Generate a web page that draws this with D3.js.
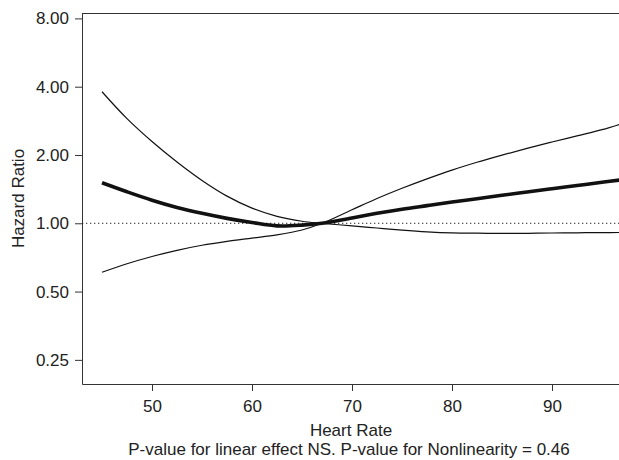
<!DOCTYPE html>
<html>
<head>
<meta charset="utf-8">
<script src="https://cdn.jsdelivr.net/npm/d3@7"></script>
<style>
  body { margin: 0; background: #fff; }
  svg { display: block; }
  text { font-family: "Liberation Sans", Arial, Helvetica, sans-serif; fill: #222; }
</style>
</head>
<body>
<div id="chart"></div>
<script>
// heart rate grid
const heartRate = [45, 47.5, 50, 52.5, 55, 57.5, 60, 62.5, 65, 67, 70, 72.5, 75, 77.5, 80, 82.5, 85, 87.5, 90, 92.5, 95, 97];
// hazard ratio estimate (thick line)
const hrEstimate = [1.509, 1.377, 1.264, 1.174, 1.106, 1.051, 1.008, 0.974, 0.981, 1.0, 1.056, 1.106, 1.153, 1.196, 1.24, 1.283, 1.329, 1.374, 1.42, 1.467, 1.516, 1.556];
// confidence band, the curve that starts high
const ciBandA = [3.80, 2.892, 2.293, 1.862, 1.544, 1.317, 1.166, 1.073, 1.021, 1.0, 0.974, 0.953, 0.933, 0.917, 0.907, 0.904, 0.903, 0.903, 0.906, 0.908, 0.91, 0.911];
// confidence band, the curve that starts low
const ciBandB = [0.608, 0.663, 0.714, 0.76, 0.80, 0.832, 0.86, 0.889, 0.934, 1.0, 1.147, 1.285, 1.426, 1.569, 1.715, 1.857, 1.997, 2.139, 2.281, 2.428, 2.585, 2.751];

const yTicks = [0.25, 0.5, 1, 2, 4, 8];
const xTicks = [50, 60, 70, 80, 90];

const width = 619,
      height = 460;
const margin = { left: 82, top: 13, bottom: 76 };
const plotRight = 622;

const svg = d3.select("#chart")
              .append("svg")
              .attr("width", width)
              .attr("height", height);

const x = d3.scaleLinear().domain([43, 97]).range([margin.left, plotRight]);
const y = d3.scaleLog().base(2).domain([0.1957, 8.45]).range([height - margin.bottom, margin.top]);

// Axes
const yAxis = d3.axisLeft(y)
                .tickValues(yTicks)
                .tickFormat(d3.format(".2f"))
                .tickSize(7)
                .tickSizeOuter(0)
                .tickPadding(6);

const xAxis = d3.axisBottom(x)
                .tickValues(xTicks)
                .tickFormat(d3.format("d"))
                .tickSize(7)
                .tickSizeOuter(0)
                .tickPadding(9);

const gy = svg.append("g")
              .attr("transform", `translate(${margin.left},0)`)
              .call(yAxis);

const gx = svg.append("g")
              .attr("transform", `translate(0,${height - margin.bottom})`)
              .call(xAxis);

[gx, gy].forEach(g => {
    g.selectAll("path, line").attr("stroke", "#333").attr("stroke-width", 1);
    g.selectAll("text").attr("font-size", 17).attr("fill", "#222")
     .attr("font-family", '"Liberation Sans", Arial, Helvetica, sans-serif');
});

// top border (right side runs off the picture)
svg.append("line")
   .attr("x1", margin.left).attr("x2", width)
   .attr("y1", margin.top + 0.5).attr("y2", margin.top + 0.5)
   .attr("stroke", "#333");

// reference line at HR = 1
svg.append("line")
   .attr("x1", margin.left).attr("x2", width)
   .attr("y1", y(1)).attr("y2", y(1))
   .attr("stroke", "#222")
   .attr("stroke-width", 1)
   .attr("stroke-dasharray", "1.3,2.7");

// Curves
svg.append("clipPath").attr("id", "clip")
   .append("rect")
   .attr("x", margin.left).attr("y", margin.top)
   .attr("width", plotRight - margin.left)
   .attr("height", height - margin.bottom - margin.top);

const line = d3.line()
               .x(d => x(d[0]))
               .y(d => y(d[1]))
               .curve(d3.curveCatmullRom.alpha(0.5));

const curves = [
    { values: ciBandA, w: 1.2 },
    { values: ciBandB, w: 1.2 },
    { values: hrEstimate, w: 3.6 }
];

svg.append("g")
   .attr("clip-path", "url(#clip)")
   .selectAll("path")
   .data(curves)
   .join("path")
   .attr("d", c => line(heartRate.map((h, i) => [h, c.values[i]])))
   .attr("fill", "none")
   .attr("stroke", "#111")
   .attr("stroke-width", c => c.w)
   .attr("stroke-linejoin", "round");

// Axis titles
svg.append("text")
   .attr("transform", `translate(24,${(margin.top + height - margin.bottom) / 2}) rotate(-90)`)
   .attr("text-anchor", "middle")
   .attr("font-size", 17)
   .text("Hazard Ratio");

svg.append("text")
   .attr("x", 351).attr("y", 436)
   .attr("text-anchor", "middle")
   .attr("font-size", 17)
   .text("Heart Rate");

svg.append("text")
   .attr("x", 349).attr("y", 455)
   .attr("text-anchor", "middle")
   .attr("font-size", 17)
   .text("P-value for linear effect NS. P-value for Nonlinearity = 0.46");
</script>
</body>
</html>
